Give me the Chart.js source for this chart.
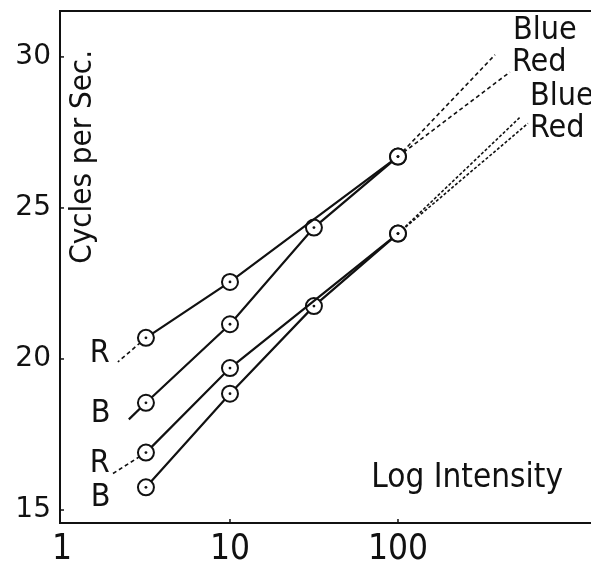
<!DOCTYPE html>
<html>
<head>
<meta charset="utf-8">
<script src="https://cdn.jsdelivr.net/npm/chart.js@4.4.1/dist/chart.umd.min.js"></script>
<style>
  html, body { margin: 0; padding: 0; background: #fff; }
  canvas { display: block; }
</style>
</head>
<body>
<canvas id="chart" width="591" height="562"></canvas>
<script>
// light intensities (log scale) and flicker rates
let intensity = [3.16, 10, 31.6, 100];
let upperRed = [20.7, 22.55, null, 26.7];
let upperBlue = [18.55, 21.15, 24.35, 26.7];
let lowerRed = [16.9, 19.7, null, 24.15];
let lowerBlue = [15.75, 18.85, 21.75, 24.15];

// extrapolated tails: left ones for upper R, upper B, lower R
let leftTailX = [2.15, 2.5, 2.0];
let leftTailY = [19.9, 18.0, 16.2];
// right ones for upper Blue, upper Red, lower Blue, lower Red
let rightTailX = [378, 464, 532, 594];
let rightTailY = [30.07, 29.5, 28.0, 27.8];

let xTicks = [1, 10, 100];
let yTicks = [15, 20, 25, 30];

const narrow = '"Liberation Sans Narrow", "DejaVu Sans Condensed", sans-serif';

function pts(ys) {
    let out = [];
    ys.forEach((v, i) => { if (v !== null) out.push({ x: intensity[i], y: v }); });
    return out;
}

function series(ys) {
    return {
        data: pts(ys),
        borderColor: "#111",
        borderWidth: 2.2,
        pointRadius: 8,
        pointBorderWidth: 2,
        pointBorderColor: "#111",
        pointBackgroundColor: "#fff",
        dotted: true,
    };
}

function tail(from, tx, ty, dash, solid) {
    return {
        data: [{ x: from.x, y: from.y }, { x: tx, y: ty }],
        borderColor: "#111",
        borderWidth: solid ? 2.2 : 1.6,
        borderDash: solid ? [] : dash,
        pointRadius: 0,
    };
}

let uR = pts(upperRed), uB = pts(upperBlue), lR = pts(lowerRed), lB = pts(lowerBlue);

let datasets = [
    series(upperRed),
    series(upperBlue),
    series(lowerRed),
    series(lowerBlue),
    tail(uR[0], leftTailX[0], leftTailY[0], [4, 3]),
    tail(uB[0], leftTailX[1], leftTailY[1], [], true),
    tail(lR[0], leftTailX[2], leftTailY[2], [4, 3]),
    tail(uB[uB.length - 1], rightTailX[0], rightTailY[0], [4, 3]),
    tail(uR[uR.length - 1], rightTailX[1], rightTailY[1], [4, 3]),
    tail(lB[lB.length - 1], rightTailX[2], rightTailY[2], [3, 2]),
    tail(lR[lR.length - 1], rightTailX[3], rightTailY[3], [3, 2]),
];

// text written inside the plot, anchored in data units
let notes = [
    { text: "Blue", x: 484, y: 30.86, size: 32 },
    { text: "Red", x: 477, y: 29.8, size: 32 },
    { text: "Blue", x: 611, y: 28.68, size: 32 },
    { text: "Red", x: 611, y: 27.62, size: 32 },
    { text: "R", x: 1.68, y: 20.17, size: 32, center: true },
    { text: "B", x: 1.7, y: 18.18, size: 32, center: true },
    { text: "R", x: 1.68, y: 16.52, size: 32, center: true },
    { text: "B", x: 1.7, y: 15.4, size: 32, center: true },
    { text: "Log Intensity", x: 258, y: 16.06, size: 33, center: true },
];

const markup = {
    id: "markup",
    afterDatasetsDraw(chart) {
        const { ctx, chartArea, scales } = chart;
        const x = scales.x, y = scales.y;
        ctx.save();
        ctx.fillStyle = "#111";
        ctx.strokeStyle = "#111";

        // dot in the middle of every circle
        chart.data.datasets.forEach((ds, i) => {
            if (!ds.dotted) return;
            chart.getDatasetMeta(i).data.forEach(p => {
                ctx.beginPath();
                ctx.arc(p.x, p.y, 1.4, 0, Math.PI * 2);
                ctx.fill();
            });
        });

        // top frame line runs off to the right edge
        ctx.lineWidth = 2;
        ctx.beginPath();
        ctx.moveTo(chartArea.left - 1, chartArea.top);
        ctx.lineTo(chart.width, chartArea.top);
        ctx.stroke();

        // small inward tick marks
        ctx.lineWidth = 1.5;
        yTicks.forEach(v => {
            let py = y.getPixelForValue(v);
            ctx.beginPath();
            ctx.moveTo(chartArea.left, py);
            ctx.lineTo(chartArea.left + 4, py);
            ctx.stroke();
        });
        xTicks.slice(1).forEach(v => {
            let px = x.getPixelForValue(v);
            ctx.beginPath();
            ctx.moveTo(px, chartArea.bottom);
            ctx.lineTo(px, chartArea.bottom - 4);
            ctx.stroke();
        });

        ctx.textBaseline = "middle";
        notes.forEach(n => {
            ctx.font = n.size + "px " + narrow;
            ctx.textAlign = n.center ? "center" : "left";
            ctx.fillText(n.text, x.getPixelForValue(n.x), y.getPixelForValue(n.y));
        });

        // rotated y title sits inside the plot
        ctx.translate(x.getPixelForValue(1.33), y.getPixelForValue(26.69));
        ctx.rotate(-Math.PI / 2);
        ctx.textAlign = "center";
        ctx.font = "31px " + narrow;
        ctx.fillText("Cycles per Sec.", 0, 0);
        ctx.restore();
    },
};

function noPad(s) {
    s.paddingTop = 0;
    s.paddingBottom = 0;
    s.paddingLeft = 0;
    s.paddingRight = 0;
}

new Chart("chart", {
    type: "line",
    data: { datasets: datasets },
    options: {
        responsive: false,
        animation: false,
        devicePixelRatio: 1,
        layout: { autoPadding: false, padding: { top: 11, right: 0, left: 0, bottom: 0 } },
        plugins: {
            legend: { display: false },
            tooltip: { enabled: false },
        },
        scales: {
            x: {
                type: "logarithmic",
                min: 0.973,
                max: 1409,
                afterBuildTicks: s => { s.ticks = xTicks.map(v => ({ value: v })); },
                afterFit: s => { s.height = 39; noPad(s); },
                grid: { display: false, drawTicks: false },
                border: { display: true, color: "#111", width: 2 },
                ticks: {
                    color: "#111",
                    autoSkip: false,
                    maxRotation: 0,
                    padding: 6,
                    font: { family: narrow, size: 35 },
                    callback: v => String(v),
                },
            },
            y: {
                type: "linear",
                min: 14.57,
                max: 31.52,
                afterBuildTicks: s => { s.ticks = yTicks.map(v => ({ value: v })); },
                afterFit: s => { s.width = 60; noPad(s); },
                grid: { display: false, drawTicks: false },
                border: { display: true, color: "#111", width: 2 },
                ticks: {
                    color: "#111",
                    padding: 9,
                    font: { family: "DejaVu Sans", size: 28 },
                },
            },
        },
    },
    plugins: [markup],
});
</script>
</body>
</html>
